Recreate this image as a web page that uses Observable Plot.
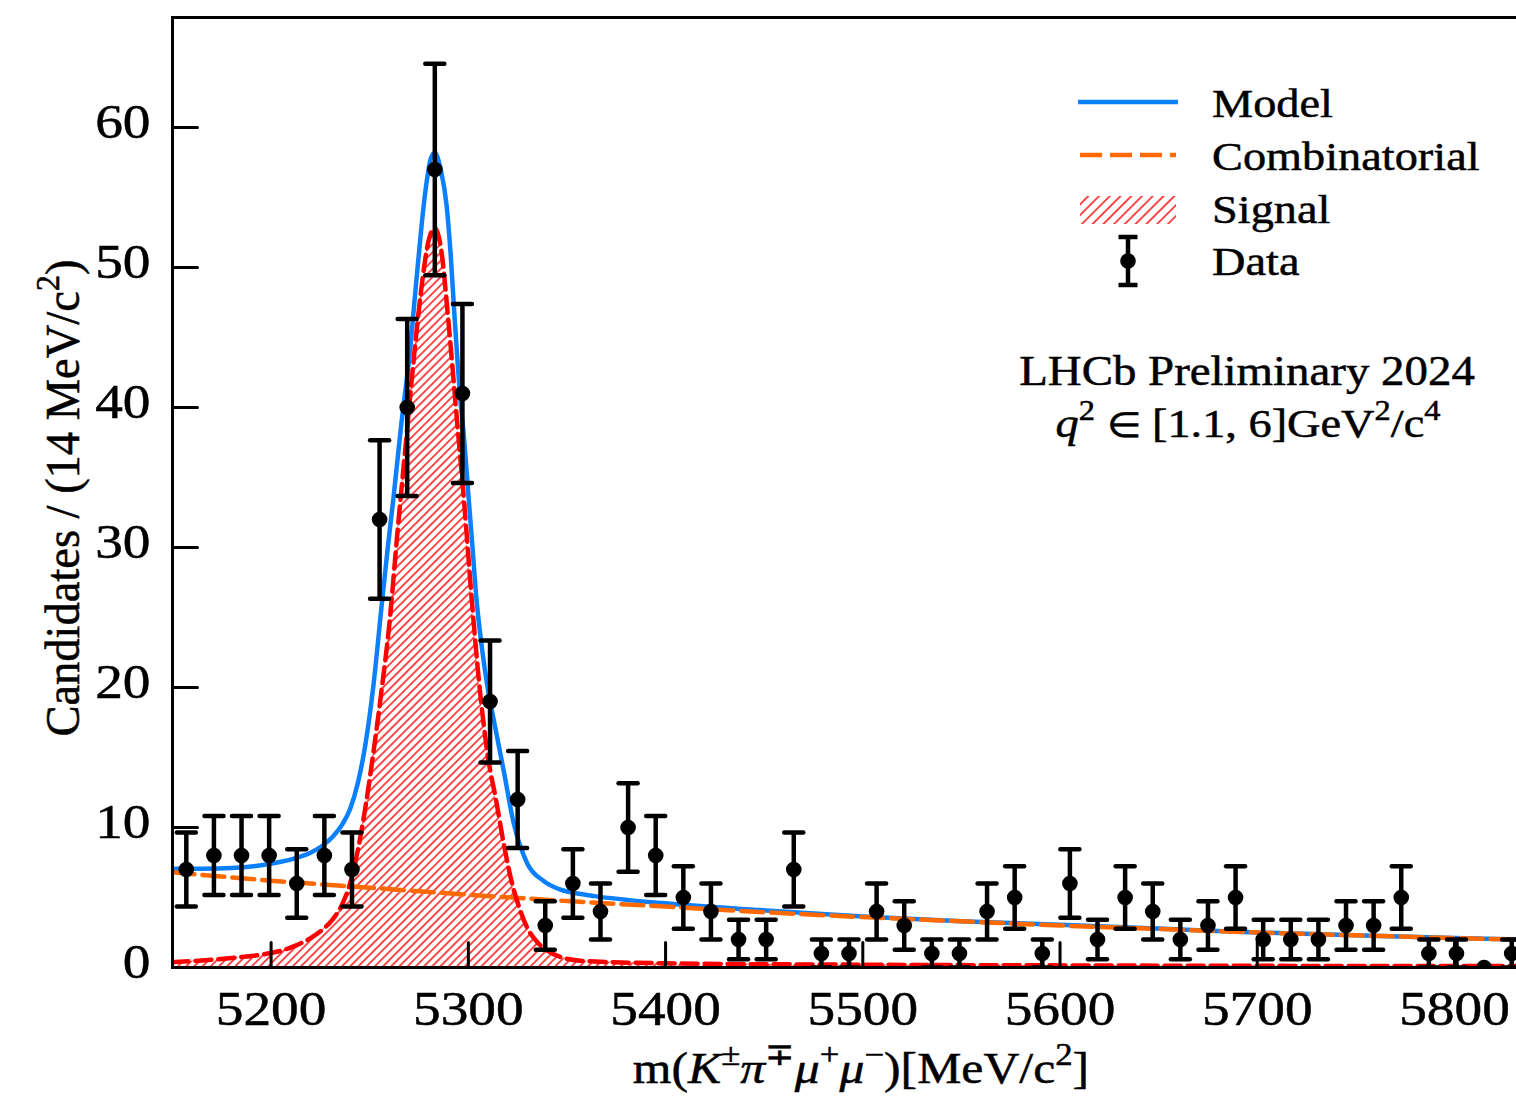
<!DOCTYPE html>
<html>
<head>
<meta charset="utf-8">
<title>m(K±π∓μ+μ−) fit</title>
<script src="https://cdn.jsdelivr.net/npm/d3@7"></script>
<script src="https://cdn.jsdelivr.net/npm/@observablehq/plot@0.6"></script>
<style>
  html, body { margin: 0; padding: 0; background: #ffffff; overflow: hidden; }
  #chart { width: 1516px; height: 1096px; overflow: hidden; }
  #chart svg { max-width: none !important; display: block; }
</style>
</head>
<body>
<div id="chart"></div>
<script>
// ---- Data: 14 MeV/c^2 bins of the K pi mu mu invariant mass ----
const binCenters = [5157, 5171, 5185, 5199, 5213, 5227, 5241, 5255, 5269, 5283, 5297, 5311, 5325,
  5339, 5353, 5367, 5381, 5395, 5409, 5423, 5437, 5451, 5465, 5479, 5493, 5507, 5521, 5535, 5549,
  5563, 5577, 5591, 5605, 5619, 5633, 5647, 5661, 5675, 5689, 5703, 5717, 5731, 5745, 5759, 5773,
  5787, 5801, 5815, 5829];
const candidates = [7, 8, 8, 8, 6, 8, 7, 32, 40, 57, 41, 19, 12,
  3, 6, 4, 10, 8, 5, 4, 2, 2, 7, 1, 1, 4, 3, 1, 1,
  4, 5, 1, 6, 2, 5, 4, 2, 3, 5, 2, 2, 2, 3, 3, 5,
  1, 1, 0, 1];
const uncertainties = [2.65, 2.83, 2.83, 2.83, 2.45, 2.83, 2.65, 5.66, 6.32, 7.55, 6.40, 4.36, 3.46,
  1.73, 2.45, 2.00, 3.16, 2.83, 2.24, 2.00, 1.41, 1.41, 2.65, 1.00, 1.00, 2.00, 1.73, 1.00, 1.00,
  2.00, 2.24, 1.00, 2.45, 1.41, 2.24, 2.00, 1.41, 1.73, 2.24, 1.41, 1.41, 1.41, 1.73, 1.73, 2.24,
  1.00, 1.00, 0.00, 1.00];

// Total fit model
const modelMass = [5150, 5165, 5180, 5195, 5205, 5212, 5220, 5226, 5231, 5236, 5240, 5244, 5248,
  5252, 5256, 5259, 5262, 5266, 5270, 5274, 5278, 5281, 5283, 5286, 5289, 5291, 5293, 5296, 5298,
  5300, 5302, 5304, 5307, 5310, 5313, 5318, 5323, 5330, 5338, 5346, 5357, 5364, 5398, 5448, 5500,
  5550, 5600, 5650, 5700, 5750, 5800, 5836];
const modelValue = [7.05, 7.05, 7.1, 7.3, 7.55, 7.8, 8.2, 8.7, 9.3, 10.2, 11.3, 13.2, 16.1,
  20.3, 25.8, 29.8, 33.5, 38.8, 43.5, 49.6, 55.2, 57.8, 58.2, 57.0, 54.4, 51.0, 46.5, 40.5, 37.5,
  33.8, 30.2, 26.5, 22.7, 19.8, 17.6, 14.0, 10.3, 7.4, 6.2, 5.6, 5.25, 5.1, 4.6, 4.1, 3.65,
  3.3, 3.05, 2.78, 2.5, 2.3, 2.1, 1.98];

// Combinatorial background component
const combMass = [5150, 5200, 5250, 5300, 5350, 5400, 5450, 5500, 5550, 5600, 5650, 5700, 5750, 5800, 5836];
const combValue = [6.8, 6.2, 5.7, 5.2, 4.75, 4.35, 3.95, 3.6, 3.3, 3.0, 2.75, 2.5, 2.3, 2.1, 1.98];

// Signal component
const signalMass = [5150, 5165, 5180, 5195, 5205, 5213, 5220, 5226, 5231, 5236, 5240, 5244, 5248,
  5252, 5256, 5260, 5264, 5268, 5272, 5276, 5280, 5283, 5286, 5290, 5294, 5298, 5302, 5306, 5310,
  5314, 5318, 5322, 5326, 5330, 5335, 5340, 5348, 5360, 5400, 5500, 5600, 5700, 5836];
const signalValue = [0.38, 0.5, 0.68, 0.92, 1.2, 1.6, 2.1, 2.7, 3.4, 4.5, 6.0, 8.4, 11.6,
  15.5, 19.8, 24.6, 31.0, 37.0, 43.0, 48.3, 52.0, 52.8, 51.5, 46.0, 39.5, 33.0, 25.8, 19.6, 15.0,
  12.0, 8.8, 6.1, 4.2, 2.8, 1.8, 1.2, 0.7, 0.45, 0.3, 0.2, 0.15, 0.12, 0.1];

const xTicks = [5200, 5300, 5400, 5500, 5600, 5700, 5800];
const yTicks = [0, 10, 20, 30, 40, 50, 60];

// ---- Tables for the marks ----
const points = binCenters.map((m, i) => ({mass: m, count: candidates[i], err: uncertainties[i]}));
const withErr = points.filter(d => d.err > 0);
const caps = withErr.flatMap(d => [{mass: d.mass, y: d.count + d.err}, {mass: d.mass, y: d.count - d.err}]);
const model = modelMass.map((m, i) => ({mass: m, value: modelValue[i]}));
const comb = combMass.map((m, i) => ({mass: m, value: combValue[i]}));
const signal = signalMass.map((m, i) => ({mass: m, value: signalValue[i]}));

// ---- Styling ----
const FONT = '"Liberation Serif", "Times New Roman", Times, serif';
const STRETCH = 1.13;           // glyphs are set slightly wide
const TEXT_WEIGHT = 0.5;        // thin outline to give the serif text a heavier look
const BLUE = "#0b80ff", ORANGE = "#ff6a00", RED = "#ff0000";

const tickShape = {draw(ctx, l) { ctx.moveTo(0, 0); ctx.lineTo(0, -l); }};
const capShape = {draw(ctx, l) { ctx.moveTo(-l / 2, 0); ctx.lineTo(l / 2, 0); }};

const chart = Plot.plot({
  width: 1530,
  height: 1096,
  marginLeft: 172,
  marginRight: 5,
  marginTop: 17,
  marginBottom: 129,
  style: {fontFamily: FONT, fontSize: "49px", background: "#ffffff", color: "#000", maxWidth: "none"},
  x: {domain: [5150, 5836]},
  y: {domain: [0, 67.86]},
  marks: [
    Plot.areaY(signal, {x: "mass", y: "value", fill: "url(#sig-hatch)", curve: "monotone-x", clip: true}),
    Plot.line(model, {x: "mass", y: "value", stroke: BLUE, strokeWidth: 4.5, curve: "monotone-x", clip: true}),
    Plot.line(comb, {x: "mass", y: "value", stroke: ORANGE, strokeWidth: 4.5, strokeDasharray: "22,8", curve: "monotone-x", clip: true}),
    Plot.line(signal, {x: "mass", y: "value", stroke: RED, strokeWidth: 4.5, strokeDasharray: "16,7", curve: "monotone-x", clip: true}),
    Plot.ruleX(withErr, {x: "mass", y1: d => d.count - d.err, y2: d => d.count + d.err, stroke: "#000", strokeWidth: 4.5, clip: true}),
    Plot.vector(caps, {x: "mass", y: "y", length: 19, anchor: "start", shape: capShape, stroke: "#000", strokeWidth: 4.5, clip: true}),
    Plot.dot(points, {x: "mass", y: "count", r: 7.8, fill: "#000", stroke: null, clip: true}),
    Plot.vector(xTicks, {x: d => d, frameAnchor: "bottom", length: 25, anchor: "start", shape: tickShape, stroke: "#000", strokeWidth: 3}),
    Plot.vector(yTicks, {y: d => d, frameAnchor: "left", length: 25, rotate: 90, anchor: "start", shape: tickShape, stroke: "#000", strokeWidth: 3}),
    Plot.axisX({ticks: xTicks, tickSize: 0, tickPadding: 23, tickFormat: "d", fontSize: 49, label: null}),
    Plot.axisY({ticks: yTicks, tickSize: 0, tickPadding: 22, tickFormat: "d", fontSize: 49, label: null, dy: -5}),
    Plot.frame({stroke: "#000", strokeWidth: 3})
  ]
});
chart.style.maxWidth = "none";
document.getElementById("chart").appendChild(chart);

const svg = d3.select(chart);

// Hatch fills for the signal component
const defs = svg.insert("defs", ":first-child");
function hatch(id, w) {
  defs.append("pattern")
      .attr("id", id)
      .attr("patternUnits", "userSpaceOnUse")
      .attr("width", w).attr("height", w)
      .attr("patternTransform", "rotate(45)")
    .append("line")
      .attr("x1", w / 2).attr("y1", -1)
      .attr("x2", w / 2).attr("y2", w + 1)
      .attr("stroke", RED).attr("stroke-width", 1.4);
}
hatch("sig-hatch", 5.8);
hatch("legend-hatch", 7.6);

// Widen the tick labels like the rest of the text
svg.selectAll('g[aria-label$="tick label"] text').each(function () {
  const t = this.getAttribute("transform");
  if (t) {
    this.setAttribute("transform", `${t} scale(${STRETCH},1)`);
  } else {
    const x = +this.getAttribute("x") || 0, y = +this.getAttribute("y") || 0;
    this.removeAttribute("x"); this.removeAttribute("y");
    this.setAttribute("transform", `translate(${x},${y}) scale(${STRETCH},1)`);
  }
  this.setAttribute("stroke", "#000");
  this.setAttribute("stroke-width", TEXT_WEIGHT);
});

// Rich text with italics and superscripts
function richText(x, y, parts, size, anchor = "start", rotate = 0, sx = STRETCH) {
  const g = svg.append("g")
    .attr("transform", `translate(${x},${y}) scale(${sx},1)${rotate ? ` rotate(${rotate})` : ""}`);
  const text = g.append("text")
    .attr("font-family", FONT)
    .attr("font-size", size)
    .attr("fill", "#000")
    .attr("stroke", "#000")
    .attr("stroke-width", TEXT_WEIGHT)
    .attr("text-anchor", anchor);
  let shift = 0;
  for (const p of parts) {
    const ts = text.append("tspan").text(p.t);
    const target = p.sup ? -0.42 * size : 0;
    if (target !== shift) { ts.attr("dy", target - shift); shift = target; }
    if (p.sup) ts.attr("font-size", size * 0.7);
    if (p.size) ts.attr("font-size", p.size);
    if (p.it) ts.attr("font-style", "italic");
  }
  return text;
}

// Axis titles
richText(861, 1083, [
  {t: "m("}, {t: "K", it: true}, {t: "±", sup: true}, {t: "π", it: true}, {t: "∓", sup: true},
  {t: "μ", it: true}, {t: "+", sup: true}, {t: "μ", it: true}, {t: "−", sup: true},
  {t: ")[MeV/c"}, {t: "2", sup: true}, {t: "]"}
], 44, "middle");
richText(79, 498, [{t: "Candidates / (14 MeV/c"}, {t: "2", sup: true}, {t: ")"}], 46.5, "middle", -90, 1.04);

// Experiment and selection note
richText(1247, 385, [{t: "LHCb Preliminary 2024"}], 41.5, "middle");
richText(1248, 437, [
  {t: "q", it: true}, {t: "2", sup: true}, {t: " "}, {t: "∈", size: 35}, {t: " [1.1, 6]GeV"},
  {t: "2", sup: true}, {t: "/c"}, {t: "4", sup: true}
], 41, "middle");

// Legend
const legend = svg.append("g").attr("aria-label", "legend");
legend.append("line").attr("x1", 1078).attr("x2", 1178).attr("y1", 102).attr("y2", 102)
  .attr("stroke", BLUE).attr("stroke-width", 4.5);
legend.append("line").attr("x1", 1080).attr("x2", 1176).attr("y1", 155).attr("y2", 155)
  .attr("stroke", ORANGE).attr("stroke-width", 4.5).attr("stroke-dasharray", "22,8");
legend.append("rect").attr("x", 1080).attr("y", 196).attr("width", 96).attr("height", 28)
  .attr("fill", "url(#legend-hatch)");
legend.append("line").attr("x1", 1128).attr("x2", 1128).attr("y1", 237).attr("y2", 285)
  .attr("stroke", "#000").attr("stroke-width", 4.5);
for (const cy of [237, 285]) {
  legend.append("line").attr("x1", 1118.5).attr("x2", 1137.5).attr("y1", cy).attr("y2", cy)
    .attr("stroke", "#000").attr("stroke-width", 4.5);
}
legend.append("circle").attr("cx", 1128).attr("cy", 261).attr("r", 7.8).attr("fill", "#000");

const legendLabels = ["Model", "Combinatorial", "Signal", "Data"];
const legendBaselines = [117, 170, 223, 275];
legendLabels.forEach((label, i) => richText(1212, legendBaselines[i], [{t: label}], 41, "start"));
</script>
</body>
</html>
